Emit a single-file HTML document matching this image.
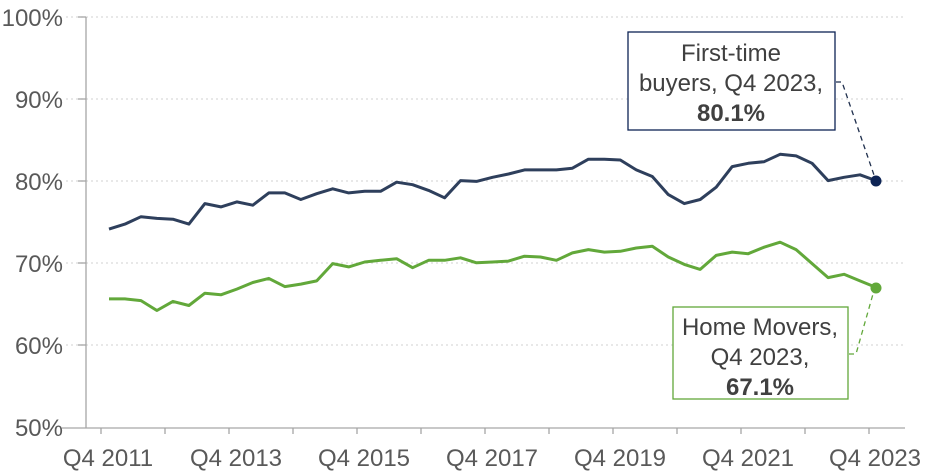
<!DOCTYPE html>
<html><head><meta charset="utf-8"><style>
body{margin:0;background:#fff}
svg{display:block;font-family:"Liberation Sans",Arial,sans-serif}
</style></head><body>
<svg id="s" width="929" height="472" viewBox="0 0 929 472" xmlns="http://www.w3.org/2000/svg">
<g stroke="#d9d9d9" stroke-width="1.3" stroke-dasharray="2,3">
<line x1="66" x2="905" y1="17" y2="17"/><line x1="66" x2="905" y1="99" y2="99"/><line x1="66" x2="905" y1="181" y2="181"/><line x1="66" x2="905" y1="263" y2="263"/><line x1="66" x2="905" y1="345" y2="345"/>
</g>
<g stroke="#a6a6a6" stroke-width="1.3">
<line x1="86" x2="86" y1="17" y2="428"/>
<line x1="62" x2="905" y1="428" y2="428"/>
<line x1="78" x2="86" y1="17" y2="17"/><line x1="78" x2="86" y1="99" y2="99"/><line x1="78" x2="86" y1="181" y2="181"/><line x1="78" x2="86" y1="263" y2="263"/><line x1="78" x2="86" y1="345" y2="345"/>
</g>
<g id="ticks" stroke="#a6a6a6" stroke-width="1.3"></g>
<g fill="#595959" font-size="24" text-anchor="end">
<text x="63" y="26">100%</text><text x="63" y="108">90%</text><text x="63" y="190">80%</text><text x="63" y="272">70%</text><text x="63" y="354">60%</text><text x="63" y="436">50%</text>
</g>
<g fill="#595959" font-size="24" text-anchor="middle">
<text x="108" y="466">Q4 2011</text><text x="236" y="466">Q4 2013</text><text x="364" y="466">Q4 2015</text><text x="492" y="466">Q4 2017</text><text x="620" y="466">Q4 2019</text><text x="748" y="466">Q4 2021</text><text x="875" y="466">Q4 2023</text>
</g>
<polyline id="b" fill="none" stroke="#2e3f5c" stroke-width="3" stroke-linejoin="round"/>
<polyline id="g" fill="none" stroke="#62a83a" stroke-width="3" stroke-linejoin="round"/>
<circle cx="876" cy="181" r="5.5" fill="#0d2455"/>
<circle cx="876" cy="288" r="5.5" fill="#62a83a"/>
<polyline points="836,82 842,82 874,175" fill="none" stroke="#1f2f4d" stroke-width="1.3" stroke-dasharray="5,4"/>
<polyline points="849,354 856,354 873,294" fill="none" stroke="#62a83a" stroke-width="1.3" stroke-dasharray="5,4"/>
<rect x="628" y="32" width="207" height="98" fill="#fff" stroke="#0d2455" stroke-width="1.3"/>
<g fill="#404040" font-size="24" text-anchor="middle">
<text x="731" y="61">First-time</text><text x="731" y="91">buyers, Q4 2023,</text><text x="731" y="121" font-weight="bold">80.1%</text>
</g>
<rect x="673" y="307" width="175" height="92" fill="#fff" stroke="#62a83a" stroke-width="1.3"/>
<g fill="#404040" font-size="24" text-anchor="middle">
<text x="760" y="335">Home Movers,</text><text x="760" y="365">Q4 2023,</text><text x="760" y="395" font-weight="bold">67.1%</text>
</g>
</svg>
<script>
var B=[74.2,74.8,75.7,75.5,75.4,74.8,77.3,76.9,77.5,77.1,78.6,78.6,77.8,78.5,79.1,78.6,78.8,78.8,79.9,79.6,78.9,78.0,80.1,80.0,80.5,80.9,81.4,81.4,81.4,81.6,82.7,82.7,82.6,81.4,80.6,78.4,77.3,77.8,79.3,81.8,82.2,82.4,83.3,83.1,82.2,80.1,80.5,80.8,80.1];
var G=[65.7,65.7,65.5,64.3,65.4,64.9,66.4,66.2,66.9,67.7,68.2,67.2,67.5,67.9,70.0,69.6,70.2,70.4,70.6,69.5,70.4,70.4,70.7,70.1,70.2,70.3,70.9,70.8,70.4,71.3,71.7,71.4,71.5,71.9,72.1,70.8,69.9,69.3,71.0,71.4,71.2,72.0,72.6,71.7,70.0,68.3,68.7,67.9,67.1];
function p(a){return a.map(function(v,i){return (109+i*767/48).toFixed(1)+","+(428-(v-50)*8.22).toFixed(1)}).join(" ")}
document.getElementById("b").setAttribute("points",p(B));
document.getElementById("g").setAttribute("points",p(G));
var t="";for(var x=101;x<906;x+=64){t+='<line x1="'+x+'" x2="'+x+'" y1="428" y2="434"/>';}
document.getElementById("ticks").innerHTML=t;
</script>
</body></html>
